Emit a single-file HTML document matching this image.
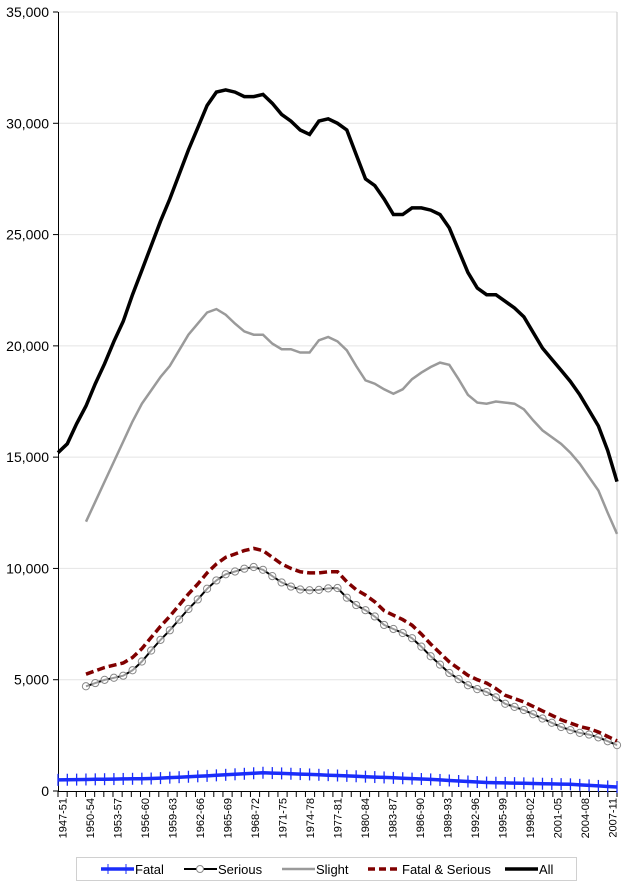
<!DOCTYPE html>
<html><head><meta charset="utf-8"><style>
html,body{margin:0;padding:0;background:#fff;width:631px;height:888px;overflow:hidden}
svg{display:block;font-family:"Liberation Sans",Arial,sans-serif}
</style></head><body>
<svg id="c" width="631" height="888" xmlns="http://www.w3.org/2000/svg"></svg>
<script>
const svg=document.getElementById('c');let h='';
const X=i=>58+i*9.317, Y=v=>791-v*0.022257;
// grid + y labels
for(let k=0;k<=7;k++){const v=k*5000,y=Y(v);
 if(k>0)h+=`<line x1="58" y1="${y}" x2="617" y2="${y}" stroke="#e4e4e4" stroke-width="1"/>`;
 h+=`<line x1="53" y1="${y}" x2="58" y2="${y}" stroke="#000"/>`;
 h+=`<text x="49" y="${y+5}" font-size="14" text-anchor="end">${k==0?'0':(v/1000)+',000'}</text>`;}
h+=`<line x1="617" y1="12" x2="617" y2="791" stroke="#c8c8c8"/>`;
h+=`<line x1="58.5" y1="12" x2="58.5" y2="791" stroke="#000"/>`;
h+=`<line x1="58" y1="791.5" x2="617" y2="791.5" stroke="#000"/>`;
for(let i=0;i<=61;i++){const x=58+i*9.164;h+=`<line x1="${x}" y1="791" x2="${x}" y2="797" stroke="#000"/>`;}
for(let i=0;i<61;i+=3){const x=58+(i+0.5)*9.164+4,y=1947+i;
 h+=`<text transform="translate(${x},798) rotate(-90)" font-size="11" text-anchor="end">${y}-${String((y+4)%100).padStart(2,'0')}</text>`;}
const all=[15200,15600,16500,17300,18300,19200,20200,21100,22300,23400,24500,25600,26600,27700,28800,29800,30800,31400,31500,31400,31200,31200,31300,30900,30400,30100,29700,29500,30100,30200,30000,29700,28600,27500,27200,26600,25900,25900,26200,26200,26100,25900,25300,24300,23300,22600,22300,22300,22000,21700,21300,20600,19900,19400,18900,18400,17800,17100,16400,15300,13900];
const sl=[,,,12100,13000,13900,14800,15700,16600,17400,18000,18600,19100,19800,20500,21000,21500,21650,21400,21000,20650,20500,20500,20100,19850,19850,19700,19700,20250,20400,20200,19800,19100,18450,18300,18050,17850,18050,18500,18800,19050,19250,19150,18500,17800,17450,17400,17500,17450,17400,17150,16650,16200,15900,15600,15200,14700,14100,13500,12500,11550];
const fs=[,,,5250,5400,5550,5650,5750,6000,6400,6900,7400,7850,8350,8850,9300,9800,10200,10500,10650,10800,10900,10800,10500,10200,10000,9850,9800,9800,9850,9850,9400,9050,8800,8500,8100,7900,7700,7450,7050,6600,6200,5800,5500,5200,5000,4850,4600,4300,4150,4000,3800,3600,3400,3200,3050,2900,2800,2650,2450,2250];
const fk=[[0,500],[10,560],[16,680],[22,820],[26,760],[31,680],[40,520],[46,380],[55,300],[60,180]];
function fat(i){for(let k=0;k<fk.length-1;k++){const[a,b]=fk[k],[c,d]=fk[k+1];if(i>=a&&i<=c)return b+(d-b)*(i-a)/(c-a);}return 180;}
const pts=a=>a.map((v,i)=>v==null?null:`${X(i).toFixed(1)},${Y(v).toFixed(1)}`).filter(Boolean).join(' ');
const fa=all.map((_,i)=>fat(i));
const se=fs.map((v,i)=>v==null?null:v-fat(i)*(i<20?1.05:1.05));
h+=`<polyline points="${pts(fa)}" fill="none" stroke="#1a2dfa" stroke-width="3.5"/>`;
fa.forEach((v,i)=>h+=`<line x1="${X(i)}" y1="${Y(v)-6}" x2="${X(i)}" y2="${Y(v)+6}" stroke="#1a2dfa" stroke-width="1.3"/>`);
h+=`<polyline points="${pts(se)}" fill="none" stroke="#000" stroke-width="2"/>`;
se.forEach((v,i)=>{if(v!=null)h+=`<circle cx="${X(i)}" cy="${Y(v)}" r="3.6" fill="#fff" fill-opacity="0.6" stroke="#888" stroke-width="1"/>`});
h+=`<polyline points="${pts(sl)}" fill="none" stroke="#9a9a9a" stroke-width="2.5"/>`;
h+=`<polyline points="${pts(fs)}" fill="none" stroke="#800000" stroke-width="3.5" stroke-dasharray="8,4"/>`;
h+=`<polyline points="${pts(all)}" fill="none" stroke="#000" stroke-width="3.5"/>`;
// legend
h+=`<rect x="76.5" y="857.5" width="500" height="23" fill="#fff" stroke="#d0d0d0"/>`;
const ly=869;
h+=`<line x1="101" y1="${ly}" x2="134" y2="${ly}" stroke="#1a2dfa" stroke-width="3.5"/><line x1="108" y1="${ly-5}" x2="108" y2="${ly+5}" stroke="#1a2dfa"/><line x1="126" y1="${ly-5}" x2="126" y2="${ly+5}" stroke="#1a2dfa"/><text x="135" y="${ly+5}" font-size="13">Fatal</text>`;
h+=`<line x1="184" y1="${ly}" x2="217" y2="${ly}" stroke="#000" stroke-width="2"/><circle cx="200" cy="${ly}" r="3.5" fill="#fff" stroke="#888"/><text x="218" y="${ly+5}" font-size="13">Serious</text>`;
h+=`<line x1="282" y1="${ly}" x2="315" y2="${ly}" stroke="#9a9a9a" stroke-width="2.5"/><text x="316" y="${ly+5}" font-size="13">Slight</text>`;
h+=`<line x1="368" y1="${ly}" x2="401" y2="${ly}" stroke="#800000" stroke-width="3.5" stroke-dasharray="7,4"/><text x="402" y="${ly+5}" font-size="13">Fatal &amp; Serious</text>`;
h+=`<line x1="505" y1="${ly}" x2="538" y2="${ly}" stroke="#000" stroke-width="3.5"/><text x="539" y="${ly+5}" font-size="13">All</text>`;
svg.innerHTML=h;
</script>
</body></html>
